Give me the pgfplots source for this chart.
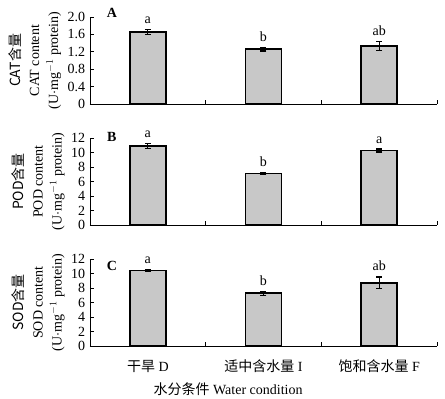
\documentclass[border=0pt]{standalone}
\usepackage{pgfplots}
\pgfplotsset{compat=1.18}
\usepackage{fontspec}
\setmainfont{Liberation Serif}
\newfontfamily\cjk{Noto Sans CJK SC}
\newcommand\fs{\fontsize{14pt}{16pt}\selectfont}
\definecolor{barfill}{RGB}{200,200,200}
\pgfplotsset{
  panel/.style={
    width=347pt, height=87pt, scale only axis,
    xmin=0.5, xmax=3.5, ymin=0,
    axis lines*=left,
    axis line style={line width=0.8pt},
    tick align=inside,
    xtick={1,2,3},
    major x tick style={draw=none},
    minor xtick={1.5,2.5,3.5},
    minor tick length=4pt,
    major tick length=4pt,
    tick style={line width=0.8pt, black},
    xticklabels={},
    /pgf/number format/assume math mode=true,
    font=\fs,
    tick label style={font=\fs},
    label style={font=\fs},
    ylabel style={align=center, yshift=-3pt},
    clip=false,
  },
  bars/.style={ybar, bar width=0.31, fill=barfill, draw=black, line width=1.6pt,
    error bars/.cd, y dir=both, y explicit,
    error bar style={line width=1.2pt, black},
    error mark options={rotate=90, mark size=3pt, line width=1.2pt, black}},
  letters/.style={only marks, mark=none, nodes near coords, point meta=explicit symbolic,
    every node near coord/.append style={font=\fs, anchor=south, yshift=1pt}},
}
\begin{document}
\fs
\begin{tikzpicture}[font=\fs]
\useasboundingbox (0,0) rectangle (445pt,399pt);
% Panel A
\begin{axis}[panel, at={(90pt,295pt)}, anchor=origin, ymax=2.0,
  ytick={0,0.4,0.8,1.2,1.6,2.0}, yticklabels={0,0.4,0.8,1.2,1.6,2.0},
  ylabel={{\cjk CAT含量}\\[3pt]CAT content\\[3pt](U$\cdot$mg$^{-1}$ protein)}]
\addplot[bars] coordinates {(1,1.66) +- (0,0.06) (2,1.26) +- (0,0.04) (3,1.33) +- (0,0.10)};
\addplot[letters] coordinates {(1,1.72)[a] (2,1.30)[b] (3,1.43)[ab]};
\node[font=\bfseries\fs] at (axis description cs:0.063,1.046) {A};
\end{axis}
% Panel B
\begin{axis}[panel, at={(90pt,174pt)}, anchor=origin, ymax=12,
  ytick={0,2,4,6,8,10,12},
  ylabel={{\cjk POD含量}\\[3pt]POD content\\[3pt](U$\cdot$mg$^{-1}$ protein)}]
\addplot[bars] coordinates {(1,10.87) +- (0,0.35) (2,7.09) +- (0,0.1) (3,10.27) +- (0,0.2)};
\addplot[letters] coordinates {(1,11.22)[a] (2,7.19)[b] (3,10.47)[a]};
\node[font=\bfseries\fs] at (axis description cs:0.063,1.01) {B};
\end{axis}
% Panel C
\begin{axis}[panel, at={(90pt,53pt)}, anchor=origin, ymax=12,
  ytick={0,2,4,6,8,10,12},
  xticklabels={{\cjk 干旱} D, {\cjk 适中含水量} I, {\cjk 饱和含水量} F},
  xticklabel style={yshift=-9pt},
  xlabel={{\cjk 水分条件} Water condition},
  xlabel style={at={(axis description cs:0.398,0)}, anchor=center, yshift=-43pt},
  ylabel={{\cjk SOD含量}\\[3pt]SOD content\\[3pt](U$\cdot$mg$^{-1}$ protein)}]
\addplot[bars] coordinates {(1,10.4) +- (0,0.15) (2,7.27) +- (0,0.3) (3,8.73) +- (0,0.8)};
\addplot[letters] coordinates {(1,10.55)[a] (2,7.57)[b] (3,9.53)[ab]};
\node[font=\bfseries\fs] at (axis description cs:0.063,0.92) {C};
\end{axis}
\end{tikzpicture}
\end{document}
